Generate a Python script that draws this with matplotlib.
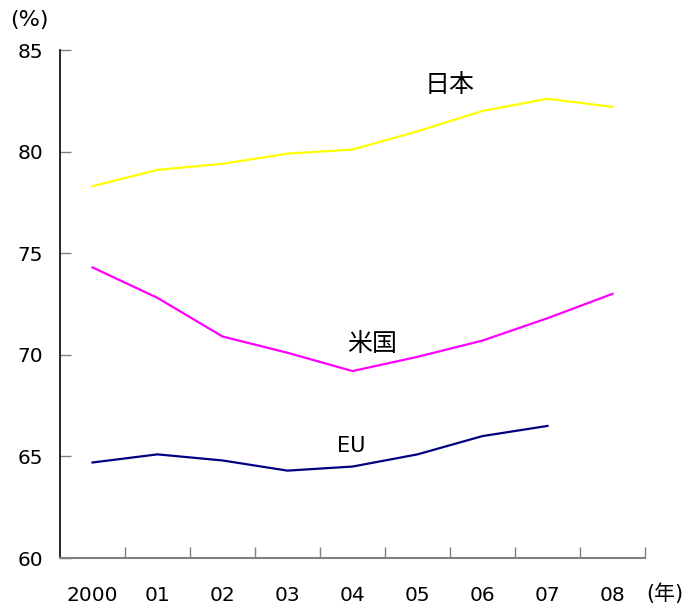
import matplotlib.pyplot as plt
from matplotlib.ticker import FixedLocator, NullFormatter, FixedFormatter

plt.rcParams['font.family'] = ['DejaVu Sans', 'Noto Sans CJK JP']

years = ['2000', '01', '02', '03', '04', '05', '06', '07', '08']
japan = [78.3, 79.1, 79.4, 79.9, 80.1, 81.0, 82.0, 82.6, 82.2]
usa = [74.3, 72.8, 70.9, 70.1, 69.2, 69.9, 70.7, 71.8, 73.0]
eu = [64.7, 65.1, 64.8, 64.3, 64.5, 65.1, 66.0, 66.5]

fig = plt.figure(figsize=(6.84, 6.08), dpi=100)
ax = fig.add_axes([60/684, 50/608, 585/684, 508/608])

x = list(range(len(years)))
ax.plot(x, japan, color='#FFFF00', lw=1.6)
ax.plot(x, usa, color='#FF00FF', lw=1.6)
ax.plot(x[:len(eu)], eu, color='#000080', lw=1.6)

ax.set_xlim(-0.5, 8.5)
ax.set_ylim(60, 85)
ax.set_yticks([60, 65, 70, 75, 80, 85])

ax.xaxis.set_major_locator(FixedLocator([i + 0.5 for i in range(9)]))
ax.xaxis.set_major_formatter(NullFormatter())
ax.xaxis.set_minor_locator(FixedLocator(x))
ax.xaxis.set_minor_formatter(FixedFormatter(years))
ax.tick_params(axis='x', which='major', direction='in', length=8, color='#808080', width=1)
ax.tick_params(axis='x', which='minor', length=0, pad=20, labelsize=14.5)
ax.tick_params(axis='y', direction='in', length=8, color='#808080', width=1, pad=12, labelsize=14.5)

for s in ('top', 'right'):
    ax.spines[s].set_visible(False)
ax.spines['left'].set_color('black')
ax.spines['left'].set_linewidth(1.2)
ax.spines['bottom'].set_color('#808080')
ax.spines['bottom'].set_linewidth(1.5)

cjk = ['Noto Sans CJK JP', 'DejaVu Sans']
ax.text(5.5, 83.3, '日本', fontsize=18, ha='center', va='center', family=cjk)
ax.text(4.3, 70.55, '米国', fontsize=18, ha='center', va='center', family=cjk)
ax.text(3.98, 65.5, 'EU', fontsize=15, ha='center', va='center')

fig.text(10/684, 1 - 20/608, '(%)', fontsize=16, ha='left', va='center')
fig.text(683/684, 1 - 594/608, '(年)', fontsize=15, ha='right', va='center')

fig.savefig('out.png', dpi=100)
